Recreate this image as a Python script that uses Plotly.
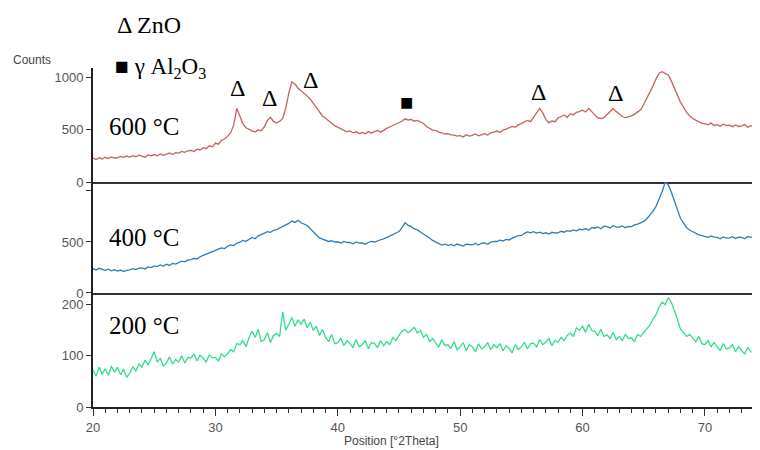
import plotly.graph_objects as go
from plotly.subplots import make_subplots

# 2-theta positions (0.25 deg steps, 20 .. 74.5)
positions = [20 + 0.25 * i for i in range(219)]

counts_600 = [
    228, 215, 232, 220, 236, 224, 240, 229, 231, 245, 236, 248, 238, 252, 241, 256,
    247, 236, 258, 249, 262, 250, 268, 255, 266, 278, 262, 281, 276, 292, 283, 298,
    302, 290, 314, 306, 328, 318, 345, 336, 372, 361, 398, 410, 438, 470, 545, 702,
    630, 555, 518, 500, 488, 476, 497, 490, 525, 588, 618, 578, 562, 580, 604, 705,
    848, 955, 935, 895, 872, 851, 822, 790, 752, 705, 672, 630, 608, 580, 561, 538,
    522, 505, 496, 480, 488, 470, 479, 462, 472, 460, 481, 468, 480, 492, 476, 498,
    512, 525, 538, 548, 562, 580, 603, 592, 598, 580, 588, 572, 558, 530, 512, 495,
    492, 475, 470, 458, 462, 450, 447, 438, 442, 430, 452, 438, 446, 458, 441, 455,
    462, 448, 470, 475, 486, 472, 495, 505, 518, 530, 522, 545, 558, 570, 588, 576,
    618, 648, 702, 660, 598, 565, 582, 575, 612, 625, 640, 618, 652, 640, 665, 672,
    685, 668, 702, 672, 640, 612, 606, 615, 642, 668, 702, 672, 648, 625, 615, 622,
    632, 648, 665, 690, 742, 795, 848, 915, 982, 1038, 1052, 1036, 1022, 965, 905, 830,
    762, 708, 665, 632, 606, 590, 575, 560, 556, 545, 562, 540, 548, 532, 552, 538,
    542, 528, 545, 530, 536, 548, 522, 538, 525, 512, 520,
]

counts_400 = [
    238, 226, 242, 230, 222, 234, 218, 228, 214, 225, 210, 222, 226, 238, 229, 243,
    246, 236, 255, 249, 266, 258, 275, 264, 282, 270, 290, 284, 298, 312, 305, 322,
    326, 340, 332, 355, 368, 382, 396, 405, 418, 430, 442, 436, 458, 472, 465, 488,
    498, 515, 506, 528, 545, 532, 560, 572, 588, 602, 594, 615, 622, 640, 650, 668,
    682, 705, 692, 712, 688, 675, 662, 630, 598, 565, 540, 528, 515, 505, 512, 498,
    502, 490, 506, 495, 495, 482, 500, 488, 490, 478, 495, 505, 500, 515, 522, 530,
    542, 555, 572, 588, 602, 640, 688, 662, 650, 628, 618, 598, 580, 560, 540, 515,
    498, 482, 470, 478, 468, 476, 462, 480, 470, 460, 478, 472, 472, 485, 470, 488,
    490, 478, 498, 505, 505, 518, 510, 525, 520, 538, 550, 562, 562, 585, 598, 590,
    602, 588, 596, 582, 590, 578, 595, 588, 590, 605, 596, 612, 605, 618, 610, 625,
    620, 632, 615, 640, 635, 648, 630, 655, 650, 638, 662, 645, 645, 658, 640, 652,
    650, 668, 675, 690, 702, 728, 762, 800, 848, 915, 992, 1085, 1062, 990, 912, 820,
    732, 685, 640, 618, 602, 585, 570, 562, 552, 545, 560, 548, 545, 532, 550, 538,
    540, 552, 535, 548, 545, 532, 555, 546, 550, 538, 552,
]

counts_200 = [
    72, 60, 78, 64, 75, 62, 80, 68, 78, 63, 74, 58, 66, 79, 70, 84,
    78, 92, 82, 96, 108, 88, 95, 80, 86, 98, 84, 93, 88, 100, 86, 97,
    96, 104, 90, 102, 94, 88, 102, 96, 97, 90, 104, 98, 104, 112, 108, 124,
    122, 130, 118, 136, 148, 136, 152, 128, 132, 145, 126, 140, 144, 138, 186, 150,
    162, 175, 158, 170, 162, 172, 155, 166, 150, 158, 140, 152, 136, 128, 142, 124,
    126, 135, 120, 130, 124, 116, 132, 118, 122, 130, 114, 126, 124, 116, 130, 120,
    128, 122, 136, 130, 140, 148, 152, 145, 150, 156, 145, 150, 136, 142, 128, 134,
    125, 118, 132, 120, 122, 114, 128, 112, 118, 126, 110, 122, 118, 108, 124, 114,
    118, 126, 112, 122, 116, 124, 110, 120, 115, 106, 122, 112, 118, 126, 114, 124,
    125, 118, 132, 122, 127, 134, 120, 130, 127, 136, 130, 140, 145, 138, 155, 150,
    158, 146, 162, 150, 148, 140, 152, 138, 141, 134, 146, 132, 138, 130, 142, 134,
    135, 128, 142, 138, 146, 152, 160, 172, 180, 195, 205, 200, 214, 205, 190, 172,
    152, 145, 138, 142, 135, 128, 138, 124, 122, 130, 118, 126, 118, 110, 124, 114,
    115, 122, 108, 118, 110, 104, 116, 108, 106, 114, 102,
]

x_ticks = [20, 30, 40, 50, 60, 70]
zno_peaks = [(31.8, 895), (34.4, 800), (36.2, 1200), (37.8, 970), (56.4, 855), (62.7, 845)]
al2o3_peaks = [(45.6, 760), (66.7, 1240)]

fig = make_subplots(rows=3, cols=1, shared_xaxes=True, vertical_spacing=0)

fig.add_trace(go.Scatter(x=positions, y=counts_600, mode="lines",
                         line=dict(color="#c8605c", width=1.3)), row=1, col=1)
fig.add_trace(go.Scatter(x=positions, y=counts_400, mode="lines",
                         line=dict(color="#2f7cb8", width=1.3)), row=2, col=1)
fig.add_trace(go.Scatter(x=positions, y=counts_200, mode="lines",
                         line=dict(color="#30de8c", width=1.3)), row=3, col=1)

sans = "Arial, Liberation Sans, sans-serif"
tickfont = dict(family=sans, size=13, color="#555555")

yax_common = dict(ticks="outside", ticklen=5, tickcolor="#333", showgrid=False,
                  zeroline=False, showline=True, linecolor="#222", linewidth=2,
                  tickfont=tickfont, automargin=False)
xax_upper = dict(range=[20, 74.5], showgrid=False, zeroline=False, showline=True,
                 linecolor="#333", linewidth=1.5, showticklabels=False, ticks="",
                 automargin=False)

# page body has an 8px default margin; figure is sized so the page fits the window
fig.update_layout(
    width=752, height=442,
    margin=dict(l=85, r=0, t=60, b=43),
    paper_bgcolor="white", plot_bgcolor="white",
    showlegend=False,
    yaxis=dict(domain=[0.6637, 1.0], range=[0, 1088], tickvals=[0, 500, 1000], **yax_common),
    yaxis2=dict(domain=[0.3363, 0.6637], range=[0, 1088], tickvals=[0, 500, 1000],
                ticktext=["0", "500", " "], **yax_common),
    yaxis3=dict(domain=[0.0, 0.3363], range=[0, 223], tickvals=[0, 100, 200], **yax_common),
    xaxis=xax_upper,
    xaxis2=xax_upper,
    xaxis3=dict(range=[20, 74.5], tickvals=x_ticks, showgrid=False, zeroline=False,
                showline=True, linecolor="#222", linewidth=2, ticks="outside", ticklen=7,
                tickcolor="#333", tickfont=tickfont, automargin=False,
                minor=dict(dtick=1, ticks="outside", ticklen=4, tickcolor="#333", showgrid=False)),
)

serif = "Liberation Serif, Times New Roman, serif"
ann = []
ann.append(dict(xref="paper", yref="paper", x=(11 - 93) / 667, y=(407 - 60) / 339,
                text="Counts", showarrow=False, xanchor="left", yanchor="middle",
                font=dict(family=sans, size=12, color="#444")))
ann.append(dict(xref="paper", yref="paper", x=(342 - 93) / 667, y=-(441 - 407) / 339,
                text="Position [°2Theta]", showarrow=False, xanchor="left", yanchor="middle",
                font=dict(family=sans, size=12, color="#444")))
ann.append(dict(xref="paper", yref="paper", x=(116 - 93) / 667, y=(407 - 25) / 339,
                text="Δ ZnO", showarrow=False, xanchor="left", yanchor="middle", borderpad=0,
                font=dict(family=serif, size=24, color="black")))
ann.append(dict(xref="paper", yref="paper", x=(114 - 93) / 667, y=(407 - 68) / 339,
                text="■ γ Al<sub>2</sub>O<sub>3</sub>", showarrow=False, xanchor="left",
                yanchor="middle", borderpad=0, font=dict(family=serif, size=23, color="black")))
for label, ypx in [("600 °C", 126), ("400 °C", 237), ("200 °C", 325)]:
    ann.append(dict(xref="paper", yref="paper", x=(107 - 93) / 667, y=(407 - ypx) / 339,
                    text=label, showarrow=False, xanchor="left", yanchor="middle",
                    font=dict(family=serif, size=25, color="black")))
for px, py in zno_peaks:
    ann.append(dict(xref="x", yref="y", x=px, y=py, text="Δ", showarrow=False,
                    xanchor="center", yanchor="middle",
                    font=dict(family=serif, size=24, color="black")))
for px, py in al2o3_peaks:
    ann.append(dict(xref="x", yref="y", x=px, y=py, text="■", showarrow=False,
                    xanchor="center", yanchor="middle",
                    font=dict(family=serif, size=22, color="black")))
fig.update_layout(annotations=ann)

fig.write_html("out.html")
